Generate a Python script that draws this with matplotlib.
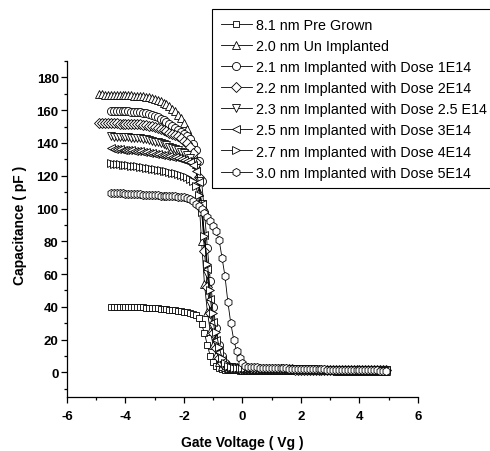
import matplotlib
matplotlib.use("Agg")
import matplotlib.pyplot as plt
import numpy as np
from matplotlib.ticker import MultipleLocator

plt.rcParams["font.family"] = ["Liberation Sans", "DejaVu Sans"]
plt.rcParams["axes.unicode_minus"] = False

# gate voltage sweep, 0.1 V step; two samples were swept from -4.9 V, the rest from -4.5 V
VG_LONG = np.round(np.arange(-4.9, 4.95, 0.1), 1)
VG_SHORT = VG_LONG[4:]

LABELS = [
    "8.1 nm Pre Grown",
    "2.0 nm Un Implanted",
    "2.1 nm Implanted with Dose 1E14",
    "2.2 nm Implanted with Dose 2E14",
    "2.3 nm Implanted with Dose 2.5 E14",
    "2.5 nm Implanted with Dose 3E14",
    "2.7 nm Implanted with Dose 4E14",
    "3.0 nm Implanted with Dose 5E14",
]
MARKERS = ["s", "^", "o", "D", "v", "<", ">", "h"]

# capacitance (pF)
C_PRE_81 = [
    40.2, 40.2, 40.1, 40.1, 40.0, 40.0, 40.0, 39.9, 39.9, 39.8, 39.8, 39.7, 39.6, 39.5,
    39.4, 39.3, 39.1, 38.9, 38.7, 38.5, 38.3, 38.1, 37.9, 37.6, 37.4, 37.1, 36.8, 36.4, 35.9,
    35.0, 33.2, 29.5, 24.0, 16.5, 10.0, 6.5, 4.0, 2.6, 1.9, 1.6, 1.4,
    1.3, 1.2, 1.2, 1.1,
    1.1, 1.1, 1.0, 1.0, 1.0, 1.0, 0.9, 0.9, 0.9, 0.9,
    0.9, 0.8, 0.8, 0.8, 0.8, 0.8, 0.8, 0.7, 0.7, 0.7,
    0.7, 0.7, 0.7, 0.7, 0.6, 0.6, 0.6, 0.6, 0.6, 0.6,
    0.6, 0.6, 0.5, 0.5, 0.5, 0.5, 0.5, 0.5, 0.5, 0.5,
    0.5, 0.5, 0.4, 0.4, 0.4, 0.4, 0.4, 0.4, 0.4, 0.4,
]
C_UN_20 = [
    169.6, 169.6, 169.5, 169.5, 169.5, 169.4, 169.4, 169.3, 169.3, 169.2, 169.1, 169.0, 168.9, 168.8,
    168.6, 168.4, 168.1, 167.8, 167.3, 166.8, 166.2, 165.5, 164.6, 163.6, 162.5, 161.0, 159.3, 157.3,
    155.0, 152.3,
    148.8, 144.0, 137.0, 127.0, 110.0, 80.0, 54.0, 37.0, 25.0, 16.5, 10.5, 6.5, 4.2, 3.1, 2.6,
    2.4, 2.2, 2.1, 2.0,
    2.0, 1.95, 1.9, 1.9, 1.85, 1.8, 1.8, 1.75, 1.7, 1.7,
    1.65, 1.65, 1.6, 1.6, 1.55, 1.55, 1.5, 1.5, 1.45, 1.45,
    1.4, 1.4, 1.4, 1.35, 1.35, 1.3, 1.3, 1.3, 1.25, 1.25,
    1.2, 1.2, 1.2, 1.15, 1.15, 1.15, 1.1, 1.1, 1.1, 1.05,
    1.05, 1.05, 1.0, 1.0, 1.0, 1.0, 0.95, 0.95, 0.95, 0.9,
]
C_1E14 = [
    159.6, 159.5, 159.5, 159.4, 159.3, 159.3, 159.2, 159.1, 159.0, 158.9, 158.8,
    158.5, 158.0, 157.5, 157.0, 156.3, 155.6, 154.8, 153.9, 152.9, 151.8, 150.6, 149.3, 148.0,
    146.7, 145.5,
    144.2, 142.3, 139.5, 135.5, 129.0, 117.0, 98.0, 76.0, 56.0, 40.0, 27.0, 17.0, 10.0, 6.0, 4.0,
    3.3, 3.0, 2.8, 2.7,
    2.6, 2.55, 2.5, 2.45, 2.4, 2.4, 2.35, 2.3, 2.3, 2.25,
    2.2, 2.2, 2.15, 2.1, 2.1, 2.05, 2.0, 2.0, 1.95, 1.95,
    1.9, 1.9, 1.85, 1.85, 1.8, 1.8, 1.75, 1.75, 1.7, 1.7,
    1.7, 1.65, 1.65, 1.6, 1.6, 1.6, 1.55, 1.55, 1.5, 1.5,
    1.5, 1.45, 1.45, 1.45, 1.4, 1.4, 1.4, 1.35, 1.35, 1.35,
]
C_2E14 = [
    152.1, 152.1, 152.0, 152.0, 152.0, 151.9, 151.9, 151.8, 151.8, 151.7, 151.7, 151.6, 151.5, 151.4,
    151.3, 151.1, 150.9, 150.6, 150.2, 149.7, 149.2, 148.5, 147.8, 147.0, 146.3, 145.6, 144.9, 144.0,
    142.9, 141.5,
    139.8, 137.5, 134.0, 128.5, 119.0, 100.0, 74.0, 52.0, 36.0, 24.0, 15.0, 9.0, 5.5, 3.8, 3.0,
    2.7, 2.5, 2.4, 2.3,
    2.3, 2.25, 2.2, 2.2, 2.15, 2.1, 2.1, 2.05, 2.0, 2.0,
    1.95, 1.95, 1.9, 1.9, 1.85, 1.85, 1.8, 1.8, 1.75, 1.75,
    1.7, 1.7, 1.7, 1.65, 1.65, 1.6, 1.6, 1.6, 1.55, 1.55,
    1.5, 1.5, 1.5, 1.45, 1.45, 1.45, 1.4, 1.4, 1.4, 1.35,
    1.35, 1.35, 1.3, 1.3, 1.3, 1.3, 1.25, 1.25, 1.25, 1.2,
]
C_25E14 = [
    144.0, 143.9, 143.8, 143.7, 143.6, 143.5, 143.4, 143.3, 143.2, 143.1, 143.0,
    142.6, 142.2, 141.8, 141.3, 140.8, 140.3, 139.7, 139.1, 138.5, 137.8, 137.1, 136.3, 135.5,
    134.6, 133.6,
    132.4, 130.8, 128.5, 124.5, 117.0, 103.0, 82.0, 60.0, 42.0, 28.0, 18.0, 11.0, 6.5, 4.2, 3.2,
    2.8, 2.6, 2.5, 2.4,
    2.35, 2.3, 2.25, 2.2, 2.2, 2.15, 2.1, 2.1, 2.05, 2.0,
    2.0, 1.95, 1.95, 1.9, 1.9, 1.85, 1.85, 1.8, 1.8, 1.75,
    1.75, 1.7, 1.7, 1.65, 1.65, 1.65, 1.6, 1.6, 1.55, 1.55,
    1.55, 1.5, 1.5, 1.5, 1.45, 1.45, 1.45, 1.4, 1.4, 1.4,
    1.35, 1.35, 1.35, 1.3, 1.3, 1.3, 1.3, 1.25, 1.25, 1.25,
]
C_3E14 = [
    136.8, 136.6, 136.4, 136.2, 136.0, 135.8, 135.6, 135.4, 135.2, 135.0, 134.8,
    134.5, 134.2, 133.9, 133.6, 133.3, 133.0, 132.7, 132.4, 132.1, 131.8, 131.5, 131.2, 130.8,
    130.4, 129.9,
    129.2, 128.2, 126.5, 123.0, 116.0, 103.0, 84.0, 63.0, 45.0, 31.0, 20.0, 12.5, 7.5, 4.8, 3.5,
    3.0, 2.8, 2.6, 2.5,
    2.45, 2.4, 2.35, 2.3, 2.3, 2.25, 2.2, 2.2, 2.15, 2.1,
    2.1, 2.05, 2.0, 2.0, 1.95, 1.95, 1.9, 1.9, 1.85, 1.85,
    1.8, 1.8, 1.75, 1.75, 1.7, 1.7, 1.7, 1.65, 1.65, 1.6,
    1.6, 1.6, 1.55, 1.55, 1.55, 1.5, 1.5, 1.5, 1.45, 1.45,
    1.45, 1.4, 1.4, 1.4, 1.35, 1.35, 1.35, 1.35, 1.3, 1.3,
]
C_4E14 = [
    127.5, 127.3, 127.1, 126.9, 126.7, 126.5, 126.3, 126.1, 125.9, 125.7, 125.5,
    125.2, 125.0, 124.7, 124.4, 124.1, 123.8, 123.5, 123.1, 122.7, 122.3, 121.9, 121.5, 121.0,
    120.5, 119.9,
    119.2, 118.2, 116.5, 113.5, 108.0, 98.0, 83.0, 66.0, 50.0, 36.0, 24.5, 15.5, 9.0, 5.5, 3.8,
    3.2, 2.9, 2.7, 2.6,
    2.5, 2.45, 2.4, 2.4, 2.35, 2.3, 2.3, 2.25, 2.2, 2.2,
    2.15, 2.1, 2.1, 2.05, 2.05, 2.0, 2.0, 1.95, 1.95, 1.9,
    1.9, 1.85, 1.85, 1.8, 1.8, 1.75, 1.75, 1.75, 1.7, 1.7,
    1.65, 1.65, 1.65, 1.6, 1.6, 1.6, 1.55, 1.55, 1.55, 1.5,
    1.5, 1.5, 1.45, 1.45, 1.45, 1.4, 1.4, 1.4, 1.4, 1.35,
]
C_5E14 = [
    109.6, 109.5, 109.4, 109.3, 109.2, 109.1, 109.0, 108.9, 108.8, 108.7, 108.6,
    108.5, 108.4, 108.3, 108.2, 108.1, 108.0, 107.9, 107.8, 107.7, 107.6, 107.5, 107.4, 107.3,
    107.1, 106.9,
    106.5, 105.6, 104.4, 103.0, 101.5, 99.5, 97.2, 94.7, 92.2, 89.6, 86.5, 81.0, 70.0, 59.0, 43.0,
    30.0, 20.0, 13.0, 8.5,
    5.5, 4.2, 3.6, 3.3, 3.1, 3.0, 2.9, 2.8, 2.75, 2.7,
    2.65, 2.6, 2.55, 2.5, 2.45, 2.4, 2.35, 2.3, 2.25, 2.2,
    2.15, 2.1, 2.05, 2.0, 1.95, 1.9, 1.85, 1.8, 1.8, 1.75,
    1.7, 1.7, 1.65, 1.6, 1.6, 1.55, 1.5, 1.5, 1.45, 1.4,
    1.4, 1.35, 1.3, 1.3, 1.25, 1.2, 1.2, 1.15, 1.1, 1.1,
]

SWEEPS = [VG_SHORT, VG_LONG, VG_SHORT, VG_LONG, VG_SHORT, VG_SHORT, VG_SHORT, VG_SHORT]
CAPS = [C_PRE_81, C_UN_20, C_1E14, C_2E14, C_25E14, C_3E14, C_4E14, C_5E14]


def main():
    fig = plt.figure(figsize=(4.9, 4.52), dpi=100)
    ax = fig.add_axes([0.1367, 0.1195, 0.7163, 0.7433])

    handles = []
    for vg, cap, mk, lab in zip(SWEEPS, CAPS, MARKERS, LABELS):
        ms = 4.8 if mk in ("s", "D") else 5.8
        (h,) = ax.plot(vg, cap, color="black", lw=0.6, marker=mk, ms=ms,
                       mfc="white", mec="black", mew=0.6, label=lab)
        handles.append(h)

    ax.set_xlim(-6, 6)
    ax.set_ylim(-15, 190)
    ax.xaxis.set_major_locator(MultipleLocator(2))
    ax.xaxis.set_minor_locator(MultipleLocator(1))
    ax.yaxis.set_major_locator(MultipleLocator(20))
    ax.yaxis.set_minor_locator(MultipleLocator(10))
    ax.set_yticks(np.arange(0, 181, 20))

    for side in ("top", "right"):
        ax.spines[side].set_visible(False)
    for side in ("left", "bottom"):
        ax.spines[side].set_linewidth(0.9)

    ax.tick_params(which="major", direction="out", length=4, width=0.9, labelsize=9.5)
    ax.tick_params(which="minor", direction="out", length=2.2, width=0.9)
    ax.tick_params(axis="x", which="major", pad=5.5)
    ax.tick_params(axis="y", which="major", pad=2.0)
    for t in ax.get_xticklabels() + ax.get_yticklabels():
        t.set_fontweight("bold")

    ax.set_xlabel("Gate Voltage ( Vg )", fontsize=10, fontweight="bold", va="center")
    ax.xaxis.set_label_coords(0.5, -0.134)
    ax.set_ylabel("Capacitance ( pF )", fontsize=10, fontweight="bold", va="center")
    ax.yaxis.set_label_coords(-0.134, 0.515)

    leg = fig.legend(handles=handles, loc="upper left",
                     bbox_to_anchor=(212 / 490, 1 - 10 / 452), borderaxespad=0,
                     fontsize=10.3, frameon=True, fancybox=False, edgecolor="black",
                     framealpha=1, handlelength=2.2, handletextpad=0.25,
                     labelspacing=0.5, borderpad=0.6, numpoints=1)
    leg.get_frame().set_linewidth(0.8)

    fig.savefig("out.png", dpi=100)
    plt.close(fig)


if __name__ == "__main__":
    main()
